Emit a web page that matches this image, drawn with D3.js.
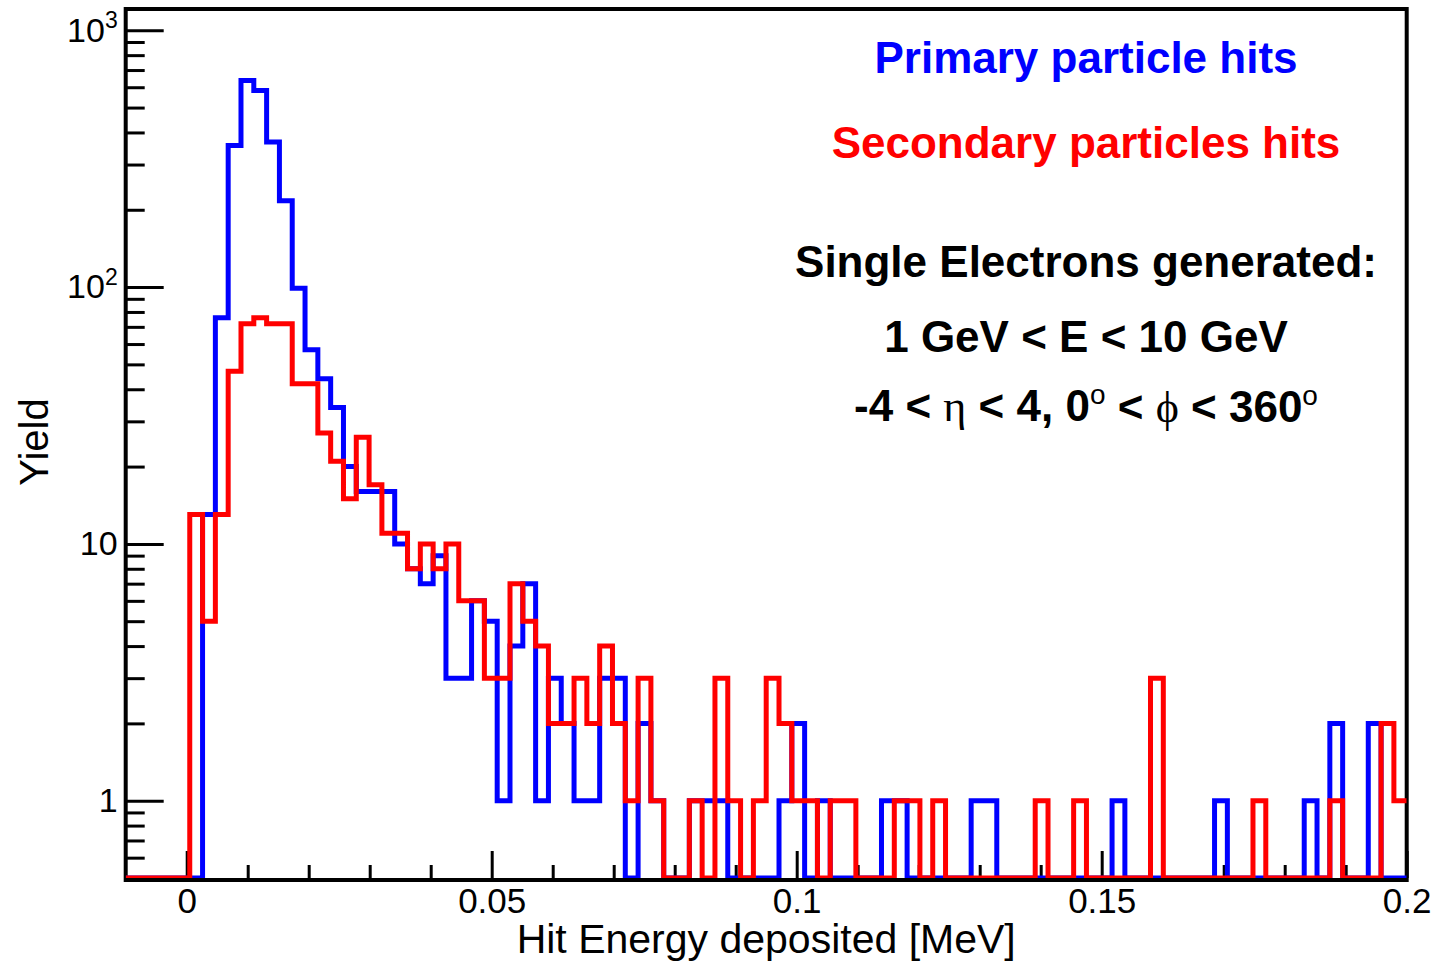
<!DOCTYPE html>
<html>
<head>
<meta charset="utf-8">
<script src="https://cdn.jsdelivr.net/npm/d3@7"></script>
<style>
    body { margin: 0; background: #fff; }
    text { font-family: 'Liberation Sans', Arial, sans-serif; }
</style>
</head>
<body>
<div class="Canvas"></div>
<script>
// histogram binning: 100 bins from -0.01 to 0.2 MeV
let binLow = -0.01;
let binHigh = 0.2;
let nBins = 100;

// counts per bin
let primaryHits = [
    0, 0, 0, 0, 0, 0, 13, 76, 356, 638,
    583, 367, 217, 99, 57, 44, 34, 20, 16, 16,
    16, 10, 8, 7, 9, 3, 3, 6, 5, 1,
    4, 7, 1, 3, 2, 1, 1, 3, 3, 0,
    2, 1, 0, 0, 1, 1, 1, 0, 0, 0,
    0, 1, 2, 0, 1, 0, 0, 0, 0, 1,
    1, 0, 0, 0, 0, 0, 1, 1, 0, 0,
    0, 0, 0, 0, 0, 0, 0, 1, 0, 0,
    0, 0, 0, 0, 0, 1, 0, 0, 0, 0,
    0, 0, 1, 0, 2, 0, 0, 2, 0, 0,
];
let secondaryHits = [
    0, 0, 0, 0, 0, 13, 5, 13, 47, 72,
    76, 72, 72, 42, 42, 27, 21, 15, 26, 17,
    11, 11, 8, 10, 8, 10, 6, 6, 3, 3,
    7, 5, 4, 2, 2, 3, 2, 4, 2, 1,
    3, 1, 0, 0, 1, 0, 3, 1, 0, 1,
    3, 2, 1, 1, 0, 1, 1, 0, 0, 0,
    1, 1, 0, 1, 0, 0, 0, 0, 0, 0,
    0, 1, 0, 0, 1, 0, 0, 0, 0, 0,
    3, 0, 0, 0, 0, 0, 0, 0, 1, 0,
    0, 0, 0, 0, 1, 0, 0, 0, 2, 1,
];

let xMajorTicks = [0, 0.05, 0.1, 0.15, 0.2];
let xTickLabels = ['0', '0.05', '0.1', '0.15', '0.2'];
let yMajorTicks = [1, 10, 100, 1000];
let yTickLabels = [['1', ''], ['10', ''], ['10', '2'], ['10', '3']];
let yMin = 0.5;
let yMax = 1210;

let width = 1435;
let height = 963;
let frameLeft = 125.7;
let frameRight = 1406.7;
let frameTop = 9;
let frameBottom = 878;
let lineStroke = 5;
let fontFamily = "'Liberation Sans', Arial, sans-serif";

let svg = d3.select('.Canvas').append('svg').attr('width', width).attr('height', height);
svg.append('rect').attr('width', width).attr('height', height).attr('fill', '#fff');

let x = d3.scaleLinear().domain([binLow, binHigh]).range([frameLeft, frameRight]);
let y = d3.scaleLog().domain([yMin, yMax]).range([frameBottom, frameTop]);

// frame
svg.append('rect')
    .attr('x', frameLeft)
    .attr('y', frameTop)
    .attr('width', frameRight - frameLeft)
    .attr('height', frameBottom - frameTop + 2)
    .attr('fill', 'none')
    .attr('stroke', 'black')
    .attr('stroke-width', 4);

// x axis: major + minor ticks pointing up into the frame
let xMinor = d3.range(0, 0.2001, 0.01).filter((t) => xMajorTicks.every((m) => Math.abs(m - t) > 1e-9));
let xAxisG = svg.append('g').attr('transform', `translate(0,${frameBottom})`);
xAxisG.append('g')
    .call(d3.axisBottom(x).tickValues(xMinor).tickSizeInner(-13).tickSizeOuter(0).tickFormat(''));
xAxisG.append('g')
    .call(d3.axisBottom(x).tickValues(xMajorTicks).tickSizeInner(-27).tickSizeOuter(0).tickPadding(10)
        .tickFormat((d, i) => xTickLabels[i]));
xAxisG.selectAll('.domain').remove();
xAxisG.selectAll('line').attr('stroke', 'black').attr('stroke-width', 3);
xAxisG.selectAll('text').attr('font-size', '35px').attr('font-family', fontFamily).attr('fill', 'black');

// y axis: log, ticks pointing right into the frame
let yMinor = [];
[0.1, 1, 10, 100].forEach((dec) => {
    for (let m = 2; m <= 9; m++) if (dec * m >= yMin && dec * m <= yMax) yMinor.push(dec * m);
});
let yAxisG = svg.append('g').attr('transform', `translate(${frameLeft},0)`);
yAxisG.append('g')
    .call(d3.axisLeft(y).tickValues(yMinor).tickSizeInner(-19).tickSizeOuter(0).tickFormat(''));
let yMajorG = yAxisG.append('g')
    .call(d3.axisLeft(y).tickValues(yMajorTicks).tickSizeInner(-38).tickSizeOuter(0).tickPadding(8)
        .tickFormat(''));
yAxisG.selectAll('.domain').remove();
yAxisG.selectAll('line').attr('stroke', 'black').attr('stroke-width', 3);
yMajorG.selectAll('.tick text')
    .attr('font-size', '34px')
    .attr('font-family', fontFamily)
    .attr('fill', 'black')
    .each(function (d, i) {
        let t = d3.select(this);
        t.append('tspan').text(yTickLabels[i][0]);
        if (yTickLabels[i][1]) {
            t.append('tspan').attr('font-size', '23px').attr('dy', '-0.6em').text(yTickLabels[i][1]);
        }
    });

// histograms
svg.append('clipPath').attr('id', 'plotClip')
    .append('rect')
    .attr('x', frameLeft)
    .attr('y', frameTop)
    .attr('width', frameRight - frameLeft)
    .attr('height', frameBottom - frameTop);

let binWidth = (binHigh - binLow) / nBins;
function stepPoints(counts) {
    let pts = counts.map((c, i) => [binLow + i * binWidth, Math.max(c, yMin)]);
    pts.push([binHigh, Math.max(counts[counts.length - 1], yMin)]);
    return pts;
}
let stepLine = d3.line()
    .x((d) => x(d[0]))
    .y((d) => y(d[1]))
    .curve(d3.curveStepAfter);

let histG = svg.append('g').attr('clip-path', 'url(#plotClip)');
[
    { counts: primaryHits, color: '#0000ff' },
    { counts: secondaryHits, color: '#ff0000' },
].forEach((h) => {
    histG.append('path')
        .attr('d', stepLine(stepPoints(h.counts)))
        .attr('fill', 'none')
        .attr('stroke', h.color)
        .attr('stroke-width', lineStroke)
        .attr('stroke-linejoin', 'miter');
});

// axis titles
svg.append('text')
    .attr('x', (frameLeft + frameRight) / 2)
    .attr('y', 953)
    .attr('text-anchor', 'middle')
    .attr('font-size', '41px')
    .text('Hit Energy deposited [MeV]');
svg.append('text')
    .attr('transform', 'translate(48,442) rotate(-90)')
    .attr('text-anchor', 'middle')
    .attr('font-size', '40px')
    .text('Yield');

// labels in the top right
let labelX = 1086;
let labels = [
    { text: 'Primary particle hits', y: 73, color: '#0000ff' },
    { text: 'Secondary particles hits', y: 158, color: '#ff0000' },
    { text: 'Single Electrons generated:', y: 277, color: '#000' },
    { text: '1 GeV < E < 10 GeV', y: 352, color: '#000' },
];
labels.forEach((l) => {
    svg.append('text')
        .attr('x', labelX)
        .attr('y', l.y)
        .attr('text-anchor', 'middle')
        .attr('font-size', '44px')
        .attr('font-weight', 'bold')
        .attr('fill', l.color)
        .text(l.text);
});

let rangeText = svg.append('text')
    .attr('x', labelX)
    .attr('y', 421)
    .attr('text-anchor', 'middle')
    .attr('font-size', '44px')
    .attr('font-weight', 'bold')
    .attr('fill', '#000');
let parts = [
    { t: '-4 < ' },
    { t: '\u03b7', serif: true },
    { t: ' < 4, 0' },
    { t: 'o', sup: true },
    { t: ' < ' },
    { t: '\u03d5', serif: true },
    { t: ' < 360' },
    { t: 'o', sup: true },
];
parts.forEach((p, i) => {
    let ts = rangeText.append('tspan').text(p.t);
    if (p.serif) ts.attr('font-family', "'Liberation Serif', 'DejaVu Serif', serif").attr('font-weight', 'normal');
    if (p.sup) ts.attr('font-size', '28px').attr('font-weight', 'normal').attr('dy', '-0.6em');
    if (i > 0 && parts[i - 1].sup) ts.attr('dy', '0.4em');
});
</script>
</body>
</html>
